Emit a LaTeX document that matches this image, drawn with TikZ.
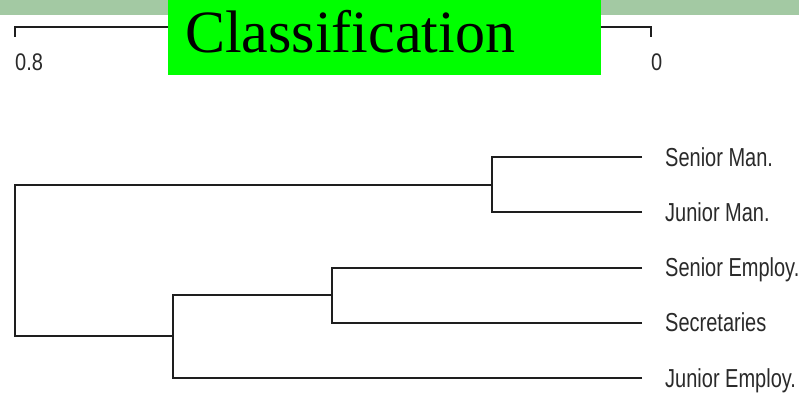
\documentclass[tikz,border=0pt]{standalone}
\usepackage{fontspec}
\setmainfont{Liberation Serif}
\newfontfamily\lblfont{Liberation Sans}
\definecolor{band}{HTML}{A3C9A3}
\definecolor{titlegreen}{HTML}{00FF00}
\definecolor{ink}{HTML}{1E1E1E}
\definecolor{lbl}{HTML}{2A2A2A}
\newcommand\tallt[1]{\scalebox{1}[1.3]{#1}}
\begin{document}
\begin{tikzpicture}[x=1pt,y=-1pt,
 link/.style={draw=ink,line width=2pt},
 leaf/.style={anchor=west,inner xsep=23pt,inner ysep=0pt,text height=18.6pt,text depth=0pt,text=lbl,font=\lblfont\fontsize{20}{20}\selectfont},
 scalelbl/.style={anchor=north west,inner sep=0pt,text=lbl,font=\lblfont\fontsize{20}{20}\selectfont},
 titlebox/.style={anchor=north west,fill=titlegreen,inner sep=0pt,minimum width=433pt,minimum height=75pt},
 titletext/.style={anchor=base west,inner sep=0pt,text=black,font=\fontsize{60}{60}\selectfont},
]
\useasboundingbox (0,0) rectangle (799,393);
\fill[white] (0,0) rectangle (799,393);
\fill[band] (0,0) rectangle (799,15);
% scale bar
\coordinate (sl) at (15,37);
\coordinate (sr) at (651,37);
\draw[link] (sl) -- (15,27.5) -- (651,27.5) -- (sr);
\node[scalelbl] (s08) at (15,54) {\scalebox{1}[1.2]{0.8}};
\node[scalelbl] (s0) at (651,54) {\scalebox{1}[1.2]{0}};
% title
\node[titlebox] (tb) at (168,0) {};
\node[titletext] (tt) at (185,53) {Classification};
% leaves
\node[leaf] (sm) at (642,157) {\tallt{Senior Man.}};
\node[leaf] (jm) at (642,212) {\tallt{Junior Man.}};
\node[leaf] (se) at (642,267.5) {\tallt{Senior Employ.}};
\node[leaf] (sc) at (642,322.5) {\tallt{Secretaries}};
\node[leaf] (je) at (642,378) {\tallt{Junior Employ.}};
% internal nodes
\coordinate (m1) at (492,185);
\coordinate (e1) at (332,295);
\coordinate (e2) at (173,336);
\coordinate (r) at (15,260);
\draw[link] (sm.west) -| (m1);
\draw[link] (jm.west) -| (m1);
\draw[link] (se.west) -| (e1);
\draw[link] (sc.west) -| (e1);
\draw[link] (e1) -| (e2);
\draw[link] (je.west) -| (e2);
\draw[link] (m1) -- (m1 -| r) -- (e2 -| r) -- (e2);
\end{tikzpicture}
\end{document}
